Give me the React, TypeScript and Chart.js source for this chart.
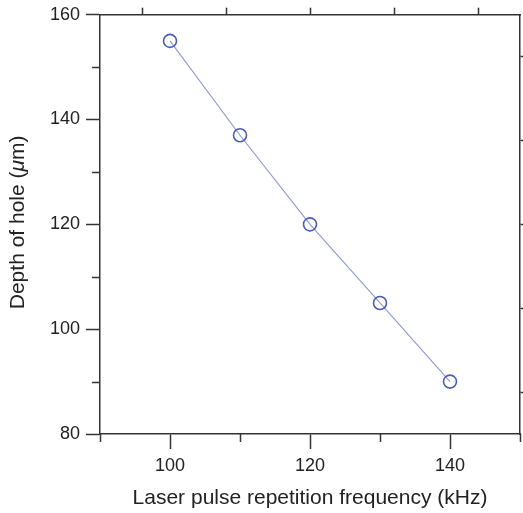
import React, { useEffect, useRef } from "react";
import { Chart, registerables } from "chart.js";

Chart.register(...registerables);

const frequencies = [100, 110, 120, 130, 140];
const depths = [155, 137, 120, 105, 90];

const xMajorTicks = [100, 120, 140];
const xMinorTicks = [90, 110, 130, 150];
const yMajorTicks = [80, 100, 120, 140, 160];
const yMinorTicks = [90, 110, 130, 150];
const frameTicks = [0.5, 1.5, 2.5, 3.5, 4.5];

const X_TITLE = "Laser pulse repetition frequency (kHz)";
const Y_TITLE_PARTS = [
  { text: "Depth of hole (", italic: false },
  { text: "μ", italic: true },
  { text: "m)", italic: false },
];

const FONT = "'Liberation Sans', Arial, Helvetica, sans-serif";
const AXIS_COLOR = "#333333";
const TEXT_COLOR = "#222222";

const decorPlugin = {
  id: "decor",
  afterDraw(chart: any) {
    const ctx = chart.ctx;
    const xs = chart.scales.x;
    const ys = chart.scales.y;
    ctx.save();
    ctx.strokeStyle = AXIS_COLOR;
    ctx.lineWidth = 1.5;
    ctx.beginPath();
    xMinorTicks.forEach((v) => {
      const px = Math.round(xs.getPixelForValue(v)) + 0.5;
      ctx.moveTo(px, xs.top);
      ctx.lineTo(px, xs.top + 8);
    });
    yMinorTicks.forEach((v) => {
      const py = Math.round(ys.getPixelForValue(v)) + 0.5;
      ctx.moveTo(ys.right, py);
      ctx.lineTo(ys.right - 8, py);
    });
    ctx.stroke();

    // y-axis title with italic mu
    const normal = `21px ${FONT}`;
    const italic = `italic 21px ${FONT}`;
    let total = 0;
    const widths = Y_TITLE_PARTS.map((p) => {
      ctx.font = p.italic ? italic : normal;
      const w = ctx.measureText(p.text).width;
      total += w;
      return w;
    });
    const cy = (chart.chartArea.top + chart.chartArea.bottom) / 2 - 2;
    ctx.translate(18, cy);
    ctx.rotate(-Math.PI / 2);
    ctx.fillStyle = TEXT_COLOR;
    ctx.textBaseline = "middle";
    ctx.textAlign = "left";
    let x = -total / 2;
    Y_TITLE_PARTS.forEach((p, i) => {
      ctx.font = p.italic ? italic : normal;
      ctx.fillText(p.text, x, 0);
      x += widths[i];
    });
    ctx.restore();
  },
};

const zeroPad = (s: any) => {
  s.paddingLeft = 0;
  s.paddingRight = 0;
  s.paddingTop = 0;
  s.paddingBottom = 0;
};

export default function App() {
  const ref = useRef<HTMLCanvasElement | null>(null);

  useEffect(() => {
    if (!ref.current) return;
    const chart = new Chart(ref.current, {
      type: "line",
      data: {
        datasets: [
          {
            data: frequencies.map((f, i) => ({ x: f, y: depths[i] })),
            borderColor: "#959bd8",
            borderWidth: 1.2,
            pointRadius: 6.5,
            pointHoverRadius: 6.5,
            pointBorderWidth: 1.6,
            pointBorderColor: "#4b5bbb",
            pointBackgroundColor: "rgba(0,0,0,0)",
            tension: 0,
          },
        ],
      },
      plugins: [decorPlugin],
      options: {
        responsive: false,
        animation: false,
        layout: { padding: 0, autoPadding: false },
        plugins: { legend: { display: false }, tooltip: { enabled: false } },
        scales: {
          x: {
            type: "linear",
            position: "bottom",
            min: 90,
            max: 150,
            afterBuildTicks: (s: any) => {
              s.ticks = xMajorTicks.map((v) => ({ value: v }));
            },
            afterFit: (s: any) => {
              s.height = 79;
              zeroPad(s);
            },
            border: { color: AXIS_COLOR, width: 1.5 },
            grid: {
              drawOnChartArea: false,
              drawTicks: true,
              tickLength: 15,
              tickColor: AXIS_COLOR,
              tickWidth: 1.5,
            },
            ticks: {
              padding: 6,
              color: TEXT_COLOR,
              font: { family: FONT, size: 18 },
              maxRotation: 0,
              autoSkip: false,
            },
            title: {
              display: true,
              text: X_TITLE,
              color: TEXT_COLOR,
              font: { family: FONT, size: 21 },
              padding: { top: 0, bottom: 2.4 },
            },
          },
          x2: {
            type: "linear",
            position: "top",
            min: 0,
            max: 5,
            afterBuildTicks: (s: any) => {
              s.ticks = frameTicks.map((v) => ({ value: v }));
            },
            afterFit: (s: any) => {
              s.height = 14.7;
              zeroPad(s);
            },
            border: { color: AXIS_COLOR, width: 1.5 },
            grid: {
              drawOnChartArea: false,
              drawTicks: true,
              tickLength: 7,
              tickColor: AXIS_COLOR,
              tickWidth: 1.5,
            },
            ticks: { display: false },
          },
          y: {
            type: "linear",
            position: "left",
            min: 80,
            max: 160,
            afterBuildTicks: (s: any) => {
              s.ticks = yMajorTicks.map((v) => ({ value: v }));
            },
            afterFit: (s: any) => {
              s.width = 100;
              zeroPad(s);
            },
            border: { color: AXIS_COLOR, width: 1.5 },
            grid: {
              drawOnChartArea: false,
              drawTicks: true,
              tickLength: 14,
              tickColor: AXIS_COLOR,
              tickWidth: 1.5,
            },
            ticks: {
              padding: 6,
              color: TEXT_COLOR,
              font: { family: FONT, size: 18 },
            },
            title: { display: false },
          },
          y2: {
            type: "linear",
            position: "right",
            min: 0,
            max: 5,
            afterBuildTicks: (s: any) => {
              s.ticks = frameTicks.map((v) => ({ value: v }));
            },
            afterFit: (s: any) => {
              s.width = 3;
              zeroPad(s);
            },
            border: { color: AXIS_COLOR, width: 1.5 },
            grid: {
              drawOnChartArea: false,
              drawTicks: true,
              tickLength: 3,
              tickColor: AXIS_COLOR,
              tickWidth: 1.5,
            },
            ticks: { display: false },
          },
        },
      } as any,
    });
    return () => chart.destroy();
  }, []);

  return (
    <div style={{ position: "fixed", left: 0, top: 0, width: 523, height: 513, background: "#fff" }}>
      <canvas ref={ref} width={523} height={513} style={{ display: "block" }} />
    </div>
  );
}
